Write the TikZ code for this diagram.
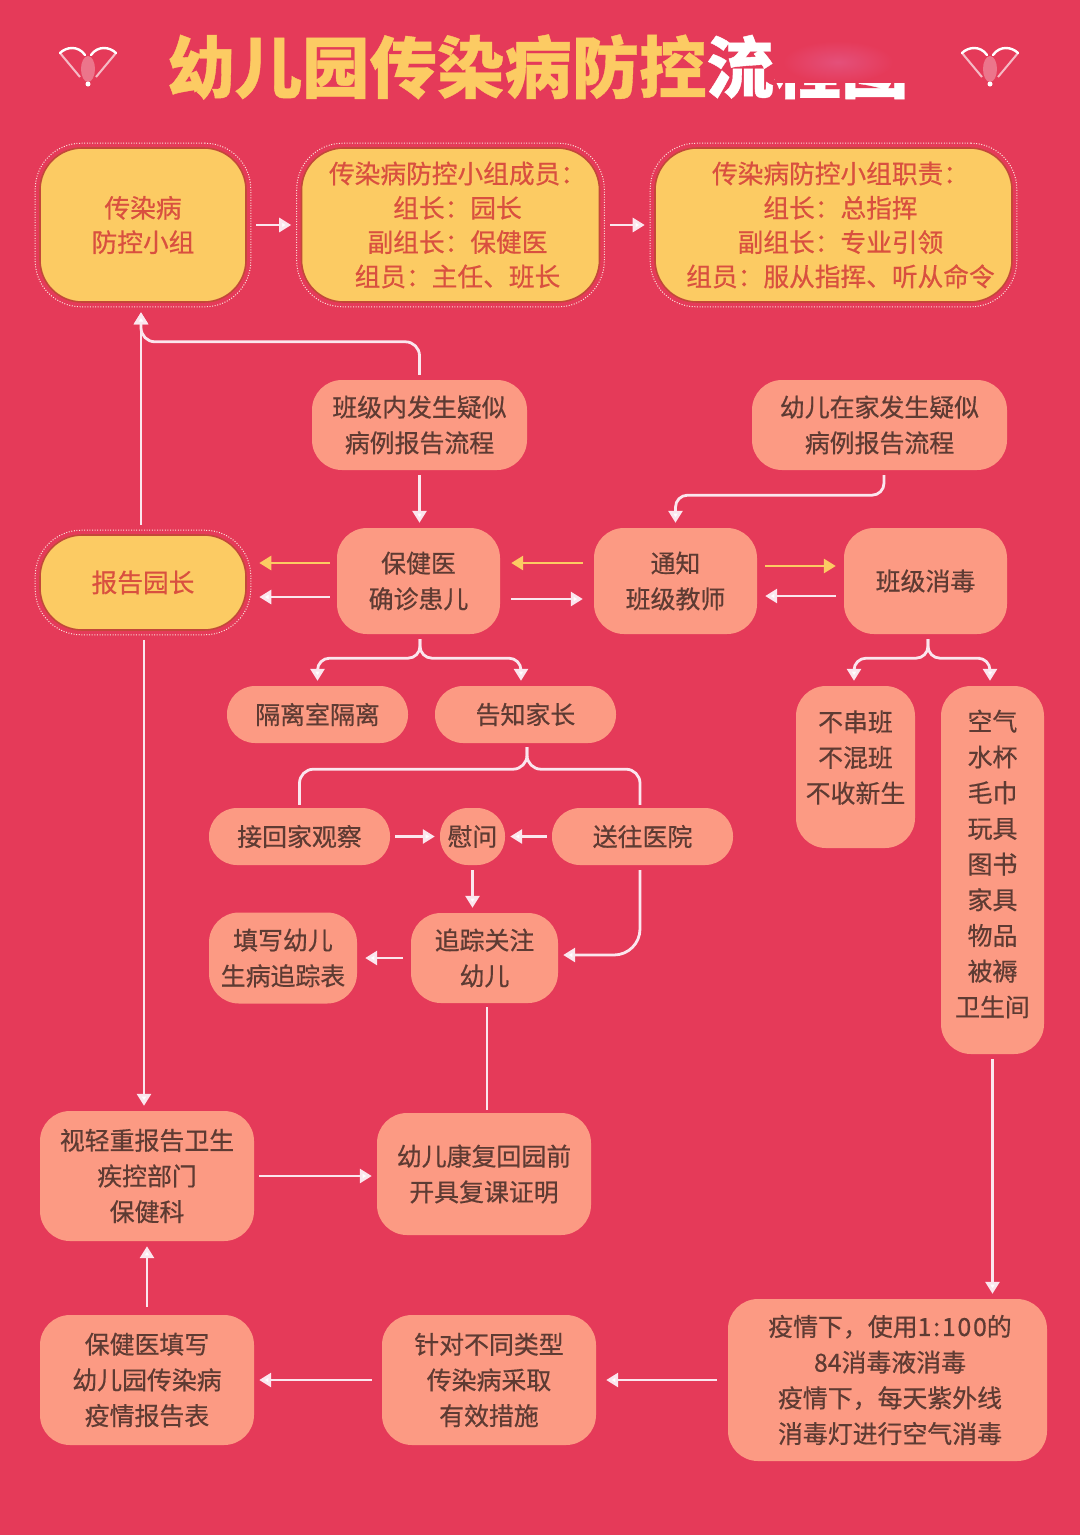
\documentclass[tikz,border=0pt]{standalone}
\usepackage{fontspec}
\setmainfont{Noto Sans CJK SC}[RawFeature={embolden=0.6}]
\usetikzlibrary{arrows.meta,fit}
\definecolor{bgred}{HTML}{E53A59}
\definecolor{salmon}{HTML}{FC9A83}
\definecolor{sunny}{HTML}{FCCB63}
\definecolor{ink}{HTML}{5E3B33}
\definecolor{rust}{HTML}{D9503F}
\definecolor{flowpink}{HTML}{FBE6EE}
\definecolor{blurpink}{HTML}{E4507A}
\tikzset{pics/gem/.style={code={
	\draw[white,line width=2.4pt,line cap=round] (-28,-12) .. controls (-22,-18) and (-10,-20) .. (-3,-10);
	\draw[white,line width=2.4pt,line cap=round] (28,-12) .. controls (22,-18) and (10,-20) .. (3,-10);
	\draw[white,line width=2pt,opacity=.65] (-28,-12) -- (-8,12) (28,-12) -- (8,12);
	\fill[white,opacity=.3] (0,4) ellipse (7 and 13);
	\fill[white] (0,19) circle (2.5);
}}}
\begin{document}
\begin{tikzpicture}[x=1pt,y=-1pt]
	\def \rowoneht{225}
	\def \rowtwoht{425}
	\def \rowthreeht{581}
	\def \rowlastht{1380}
	\def \nudge{\hspace*{14pt}}
	\tikzstyle{s-node}=[rectangle,fill=salmon,text=ink,rounded corners=30pt,inner sep=0pt,align=center,font=\fontsize{24.9pt}{35.7pt}\selectfont]
	\tikzstyle{p-node}=[s-node,rounded corners=28pt,minimum width=181pt,minimum height=57pt]
	\tikzstyle{y-node}=[rectangle,fill=sunny,draw=rust!90!black,line width=1.6pt,text=rust,rounded corners=42pt,inner sep=0pt,align=center,font=\fontsize{25.7pt}{34.3pt}\selectfont]
	\tikzstyle{ring}=[rectangle,draw=flowpink!85!sunny,line width=1pt,dash pattern=on 1pt off 1.6pt,rounded corners=46pt,inner sep=4pt]
	\tikzstyle{flow}=[draw=flowpink,line width=2.8pt,-{Triangle[length=12pt,width=14pt,fill=white]},shorten >=5pt,shorten <=5pt]
	\tikzstyle{gold}=[flow,draw=sunny,-{Triangle[length=12pt,width=14pt,fill=sunny]}]
	\tikzstyle{link}=[draw=flowpink,line width=2.8pt,shorten <=4pt,shorten >=3pt]
	\fill[bgred] (0,0) rectangle (1080,1535);
	\useasboundingbox (0,0) rectangle (1080,1535);
	% title
	\node[inner sep=0pt,font=\fontsize{67.4pt}{70pt}\bfseries\selectfont] (title) at (538,67) {\textcolor{sunny}{幼儿园传染病防控}\textcolor{white}{流程图}};
	\fill[bgred] (775,30) rectangle (912,83);
	\shade[inner color=blurpink,outer color=bgred] (838,62) ellipse (55 and 21);
	\pic (gem-left) at (88,65) {gem};
	\pic (gem-right) at (990,65) {gem};
	% yellow boxes
	\node[y-node,minimum width=206pt,minimum height=154pt]	(group)		at (143,\rowoneht)	{传染病\\防控小组};
	\node[y-node,minimum width=298pt,minimum height=154pt]	(members)	at (450.5,\rowoneht)	{\nudge 传染病防控小组成员：\\\nudge 组长：园长\\\nudge 副组长：保健医\\\nudge 组员：主任、班长};
	\node[y-node,minimum width=357pt,minimum height=154pt]	(duties)	at (833.5,\rowoneht)	{\nudge 传染病防控小组职责：\\\nudge 组长：总指挥\\\nudge 副组长：专业引领\\\nudge 组员：服从指挥、听从命令};
	\node[y-node,minimum width=206pt,minimum height=95pt]	(report)	at (143,582.5)	{报告园长};
	\node[ring,fit=(group)]		(group-ring)	{};
	\node[ring,fit=(members)]	(members-ring)	{};
	\node[ring,fit=(duties)]	(duties-ring)	{};
	\node[ring,fit=(report)]	(report-ring)	{};
	% middle rows
	\node[s-node,minimum width=215pt,minimum height=90pt]	(classcase)	at (419.5,\rowtwoht)	{班级内发生疑似\\病例报告流程};
	\node[s-node,minimum width=255pt,minimum height=90pt]	(homecase)	at (879.5,\rowtwoht)	{幼儿在家发生疑似\\病例报告流程};
	\node[s-node,minimum width=163pt,minimum height=106pt]	(doctor)	at (418.5,\rowthreeht)	{保健医\\确诊患儿};
	\node[s-node,minimum width=163pt,minimum height=106pt]	(notify)	at (675.5,\rowthreeht)	{通知\\班级教师};
	\node[s-node,minimum width=163pt,minimum height=106pt]	(disinfect)	at (925.5,\rowthreeht)	{班级消毒};
	\node[p-node]	(isolate)	at (317.5,714.5)	{隔离室隔离};
	\node[p-node]	(inform)	at (525.5,714.5)	{告知家长};
	\node[p-node]	(pickup)	at (299.5,836.5)	{接回家观察};
	\node[p-node,minimum width=65pt,rounded corners=28pt]	(comfort)	at (472.5,836.5)	{慰问};
	\node[p-node]	(hospital)	at (642.5,836.5)	{送往医院};
	\node[s-node,minimum width=148pt,minimum height=91pt]	(form)		at (283,958)	{填写幼儿\\生病追踪表};
	\node[s-node,minimum width=147pt,minimum height=90pt]	(track)		at (484.5,958)	{追踪关注\\幼儿};
	\node[s-node,minimum width=119pt,minimum height=162pt]	(rules)		at (855.5,767)	{不串班\\不混班\\不收新生\\[-14.7pt]};
	\node[s-node,minimum width=103pt,minimum height=368pt]	(items)		at (992.5,870)	{空气\\水杯\\毛巾\\玩具\\图书\\家具\\物品\\被褥\\卫生间\\[-21.7pt]};
	% bottom rows
	\node[s-node,minimum width=214pt,minimum height=130pt]	(severity)	at (147,1176)	{视轻重报告卫生\\疾控部门\\保健科};
	\node[s-node,minimum width=214pt,minimum height=122pt]	(recover)	at (484,1174)	{幼儿康复回园前\\开具复课证明};
	\node[s-node,minimum width=214pt,minimum height=130pt]	(fill)		at (147,\rowlastht)	{保健医填写\\幼儿园传染病\\疫情报告表};
	\node[s-node,minimum width=214pt,minimum height=130pt]	(measures)	at (489,\rowlastht)	{针对不同类型\\传染病采取\\有效措施};
	\node[s-node,minimum width=319pt,minimum height=162pt]	(epidemic)	at (887.5,\rowlastht)	{\hspace*{5pt}疫情下，使用{\addfontfeature{LetterSpace=7}1:100}的\\\hspace*{5pt}84消毒液消毒\\\hspace*{5pt}疫情下，每天紫外线\\\hspace*{5pt}消毒灯进行空气消毒};
	% connectors
	\path	(group-ring)	edge[flow]	(members-ring)
		(members-ring)	edge[flow]	(duties-ring)
		(epidemic)	edge[flow,shorten <=11pt,shorten >=10pt]	(measures)
		(measures)	edge[flow,shorten <=10pt]	(fill)
		(fill)		edge[flow,shorten <=8pt]	(severity)
		(pickup)	edge[flow]	(comfort)
		(hospital)	edge[flow]	(comfort)
		(track)		edge[flow,shorten <=8pt,shorten >=8pt]	(form);
	\draw[flow] (classcase.south) -- (classcase.south |- doctor.north);
	\draw[flow] (severity.east) -- (severity.east -| recover.west);
	\draw[flow] ([xshift=-2pt]report-ring.north) -- ([xshift=-2pt]group-ring.south);
	\draw[flow,rounded corners=14pt] (classcase.north) -- ++(0,-38) -- ++(-150,0) -| ([xshift=-2pt]group-ring.south);
	\draw[flow,rounded corners=12pt] ([xshift=4.5pt]homecase.south) |- ++(-100,25) -| (notify.north);
	\draw[gold,shorten <=7pt,shorten >=8pt] ([yshift=18pt]doctor.west) -- ([yshift=18pt]doctor.west -| report-ring.east);
	\draw[flow,shorten <=7pt,shorten >=8pt] ([yshift=-16pt]doctor.west) -- ([yshift=-16pt]doctor.west -| report-ring.east);
	\draw[gold,shorten <=11pt,shorten >=11pt] ([yshift=18pt]notify.west) -- ([yshift=18pt]doctor.east);
	\draw[flow,shorten <=11pt,shorten >=11pt] ([yshift=-18pt]doctor.east) -- ([yshift=-18pt]notify.west);
	\draw[gold,shorten <=8pt,shorten >=8pt] ([yshift=15pt]notify.east) -- ([yshift=15pt]disinfect.west);
	\draw[flow,shorten <=8pt,shorten >=8pt] ([yshift=-15pt]disinfect.west) -- ([yshift=-15pt]notify.east);
	\draw[flow] ([xshift=1pt]report-ring.south) -- ([xshift=1pt]report-ring.south |- severity.north);
	% splits
	\draw[flow,rounded corners=12pt] ([xshift=1.5pt]doctor.south) |- ++(-52,24) -| (isolate.north);
	\draw[flow,rounded corners=12pt] ([xshift=1.5pt]doctor.south) |- ++(50,24) -| ([xshift=-4.5pt]inform.north);
	\draw[link,rounded corners=14pt] ([xshift=1.5pt]inform.south) |- ++(-100,26) -| (pickup.north);
	\draw[link,rounded corners=14pt] ([xshift=1.5pt]inform.south) |- ++(50,26) -| ([xshift=-2.5pt]hospital.north);
	\draw[flow] (comfort.south) -- (comfort.south |- track.north);
	\draw[flow,rounded corners=26pt] ([xshift=-2.5pt]hospital.south) |- ([yshift=3pt]track.east);
	\draw[flow,rounded corners=12pt] ([xshift=2.5pt]disinfect.south) |- ++(-40,24) -| ([xshift=-1.5pt]rules.north);
	\draw[flow,rounded corners=12pt] ([xshift=2.5pt]disinfect.south) |- ++(40,24) -| ([xshift=-2.5pt]items.north);
	\draw[link] ([xshift=2.5pt]track.south) -- ([xshift=2.5pt]track.south |- recover.north);
	\draw[flow] (items.south) -- (items.south |- epidemic.north);
\end{tikzpicture}
\end{document}
